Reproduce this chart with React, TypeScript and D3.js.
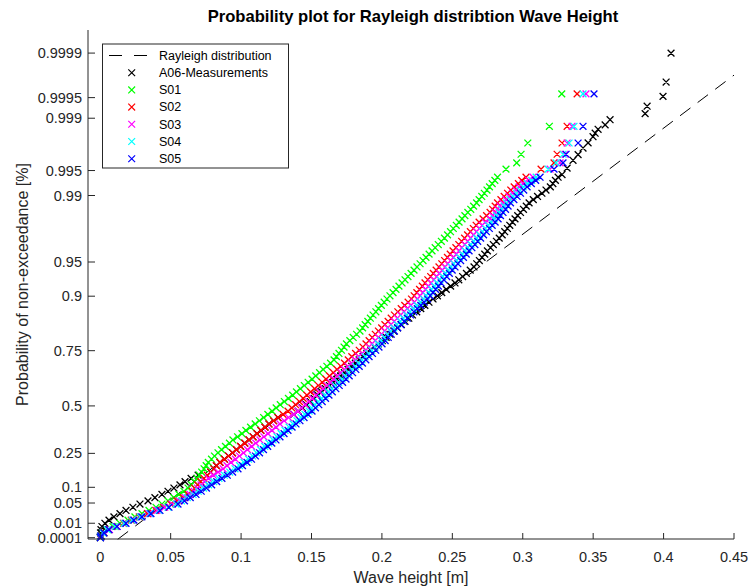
import React from 'react';
import * as d3 from 'd3';

// Non-exceedance probability levels of the plotted (sorted) sample points
const probLevels = [
  0.0001, 0.0004, 0.0016, 0.003594, 0.00638, 0.00995, 0.014297, 0.019409, 0.025275, 0.031881, 0.039211,
  0.047247, 0.055972, 0.065366, 0.075405, 0.086069, 0.09733, 0.109165, 0.121548, 0.134456, 0.147856,
  0.161717, 0.176018, 0.19072, 0.20577, 0.221199, 0.236926, 0.252935, 0.269192, 0.285666, 0.302324,
  0.319135, 0.336058, 0.353066, 0.370124, 0.387374, 0.404528, 0.421661, 0.438754, 0.455776, 0.472708,
  0.489517, 0.506184, 0.522689, 0.539015, 0.555142, 0.571044, 0.586707, 0.602118, 0.61726, 0.632121,
  0.646688, 0.660949, 0.674895, 0.688515, 0.701803, 0.714752, 0.727359, 0.739617, 0.751521, 0.763072,
  0.774266, 0.785103, 0.795583, 0.805709, 0.81548, 0.8249, 0.833972, 0.842701, 0.851088, 0.859142,
  0.866866, 0.874268, 0.881353, 0.888128, 0.894601, 0.900778, 0.906667, 0.912278, 0.917618, 0.922695,
  0.927517, 0.932093, 0.936431, 0.940539, 0.944424, 0.948098, 0.951568, 0.954842, 0.957928, 0.960836,
  0.963572, 0.966144, 0.968559, 0.970825, 0.972948, 0.974938, 0.9768, 0.978541, 0.980167, 0.981684,
  0.983099, 0.984417, 0.985644, 0.986785, 0.987845, 0.988829, 0.989741, 0.990587, 0.991369, 0.992093,
  0.992762, 0.99338, 0.99395,
];

// Wave heights [m] at those levels
const heightsA06 = [
  0.0000, 0.0001, 0.0002, 0.0005, 0.0012, 0.0033, 0.0062, 0.0097, 0.0140, 0.0183, 0.0232,
  0.0282, 0.0339, 0.0388, 0.0438, 0.0481, 0.0523, 0.0566, 0.0602, 0.0645, 0.0695,
  0.0784, 0.0807, 0.0825, 0.0850, 0.0882, 0.0911, 0.0939, 0.0967, 0.0997, 0.1026,
  0.1056, 0.1085, 0.1113, 0.1141, 0.1170, 0.1198, 0.1231, 0.1262, 0.1374, 0.1405,
  0.1436, 0.1463, 0.1491, 0.1518, 0.1545, 0.1572, 0.1599, 0.1627, 0.1654, 0.1681,
  0.1707, 0.1733, 0.1759, 0.1785, 0.1811, 0.1838, 0.1866, 0.1893, 0.1920, 0.1947,
  0.1975, 0.2002, 0.2030, 0.2057, 0.2084, 0.2111, 0.2138, 0.2164, 0.2191, 0.2217,
  0.2247, 0.2276, 0.2305, 0.2334, 0.2363, 0.2394, 0.2425, 0.2457, 0.2488, 0.2519,
  0.2546, 0.2573, 0.2600, 0.2627, 0.2654, 0.2673, 0.2692, 0.2711, 0.2730, 0.2749,
  0.2771, 0.2791, 0.2813, 0.2833, 0.2854, 0.2872, 0.2891, 0.2908, 0.2927, 0.2945,
  0.2964, 0.2984, 0.3005, 0.3025, 0.3045, 0.3075, 0.3105, 0.3136, 0.3165, 0.3196,
  0.3214, 0.3232, 0.3251,
];
const heightsS01 = [
  0.0001, 0.0009, 0.0026, 0.0055, 0.0090, 0.0140, 0.0197, 0.0246, 0.0296, 0.0346, 0.0396,
  0.0438, 0.0481, 0.0523, 0.0559, 0.0594, 0.0623, 0.0648, 0.0669, 0.0687, 0.0703,
  0.0720, 0.0737, 0.0752, 0.0767, 0.0790, 0.0811, 0.0836, 0.0861, 0.0889, 0.0917,
  0.0942, 0.0975, 0.1006, 0.1034, 0.1067, 0.1100, 0.1130, 0.1160, 0.1190, 0.1220,
  0.1249, 0.1278, 0.1307, 0.1336, 0.1366, 0.1393, 0.1421, 0.1449, 0.1476, 0.1504,
  0.1530, 0.1557, 0.1583, 0.1609, 0.1635, 0.1660, 0.1677, 0.1695, 0.1713, 0.1731,
  0.1748, 0.1772, 0.1796, 0.1820, 0.1844, 0.1863, 0.1881, 0.1900, 0.1918, 0.1937,
  0.1957, 0.1976, 0.1996, 0.2016, 0.2036, 0.2057, 0.2079, 0.2100, 0.2121, 0.2143,
  0.2164, 0.2185, 0.2207, 0.2228, 0.2249, 0.2271, 0.2292, 0.2313, 0.2335, 0.2356,
  0.2378, 0.2400, 0.2422, 0.2444, 0.2466, 0.2487, 0.2507, 0.2528, 0.2548, 0.2569,
  0.2589, 0.2610, 0.2631, 0.2651, 0.2672, 0.2690, 0.2709, 0.2727, 0.2746, 0.2764,
  0.2783, 0.2802, 0.2821,
];
const heightsS02 = [
  0.0001, 0.0005, 0.0026, 0.0060, 0.0110, 0.0165, 0.0220, 0.0277, 0.0335, 0.0395, 0.0450,
  0.0500, 0.0545, 0.0589, 0.0623, 0.0653, 0.0669, 0.0692, 0.0714, 0.0736, 0.0760,
  0.0784, 0.0807, 0.0825, 0.0850, 0.0882, 0.0911, 0.0939, 0.0967, 0.0997, 0.1026,
  0.1056, 0.1085, 0.1113, 0.1141, 0.1170, 0.1198, 0.1231, 0.1262, 0.1298, 0.1333,
  0.1360, 0.1387, 0.1414, 0.1441, 0.1467, 0.1494, 0.1522, 0.1549, 0.1576, 0.1603,
  0.1628, 0.1655, 0.1681, 0.1708, 0.1734, 0.1761, 0.1786, 0.1813, 0.1839, 0.1865,
  0.1887, 0.1909, 0.1931, 0.1953, 0.1975, 0.1998, 0.2021, 0.2044, 0.2066, 0.2089,
  0.2113, 0.2137, 0.2162, 0.2186, 0.2210, 0.2229, 0.2248, 0.2267, 0.2287, 0.2306,
  0.2326, 0.2346, 0.2365, 0.2385, 0.2405, 0.2425, 0.2445, 0.2465, 0.2485, 0.2505,
  0.2525, 0.2546, 0.2566, 0.2587, 0.2608, 0.2628, 0.2649, 0.2669, 0.2690, 0.2718,
  0.2743, 0.2768, 0.2786, 0.2804, 0.2821, 0.2845, 0.2868, 0.2892, 0.2915, 0.2939,
  0.2969, 0.2993, 0.3023,
];
const heightsS03 = [
  0.0003, 0.0004, 0.0024, 0.0066, 0.0120, 0.0176, 0.0232, 0.0289, 0.0346, 0.0403, 0.0458,
  0.0510, 0.0560, 0.0603, 0.0637, 0.0667, 0.0690, 0.0716, 0.0742, 0.0768, 0.0803,
  0.0837, 0.0872, 0.0900, 0.0928, 0.0960, 0.0988, 0.1017, 0.1045, 0.1075, 0.1104,
  0.1134, 0.1162, 0.1191, 0.1219, 0.1248, 0.1276, 0.1306, 0.1337, 0.1374, 0.1405,
  0.1430, 0.1456, 0.1481, 0.1507, 0.1532, 0.1557, 0.1584, 0.1609, 0.1634, 0.1660,
  0.1684, 0.1710, 0.1734, 0.1759, 0.1784, 0.1809, 0.1834, 0.1859, 0.1884, 0.1908,
  0.1930, 0.1952, 0.1974, 0.1996, 0.2018, 0.2041, 0.2064, 0.2087, 0.2109, 0.2132,
  0.2156, 0.2180, 0.2205, 0.2229, 0.2253, 0.2272, 0.2291, 0.2310, 0.2330, 0.2349,
  0.2369, 0.2389, 0.2408, 0.2428, 0.2448, 0.2468, 0.2488, 0.2508, 0.2528, 0.2548,
  0.2568, 0.2589, 0.2609, 0.2630, 0.2651, 0.2671, 0.2692, 0.2712, 0.2733, 0.2768,
  0.2785, 0.2803, 0.2821, 0.2839, 0.2856, 0.2880, 0.2903, 0.2927, 0.2950, 0.2974,
  0.3004, 0.3042, 0.3073,
];
const heightsS04 = [
  0.0001, 0.0003, 0.0020, 0.0050, 0.0105, 0.0170, 0.0226, 0.0283, 0.0353, 0.0417, 0.0481,
  0.0538, 0.0577, 0.0618, 0.0659, 0.0696, 0.0733, 0.0770, 0.0806, 0.0843, 0.0881,
  0.0919, 0.0957, 0.0989, 0.1021, 0.1053, 0.1081, 0.1110, 0.1138, 0.1168, 0.1197,
  0.1227, 0.1255, 0.1284, 0.1312, 0.1341, 0.1369, 0.1397, 0.1426, 0.1454, 0.1483,
  0.1500, 0.1524, 0.1548, 0.1572, 0.1596, 0.1620, 0.1645, 0.1669, 0.1693, 0.1717,
  0.1740, 0.1764, 0.1787, 0.1811, 0.1834, 0.1858, 0.1881, 0.1905, 0.1928, 0.1951,
  0.1973, 0.1995, 0.2017, 0.2039, 0.2061, 0.2084, 0.2107, 0.2130, 0.2152, 0.2175,
  0.2199, 0.2223, 0.2248, 0.2272, 0.2296, 0.2315, 0.2334, 0.2353, 0.2373, 0.2392,
  0.2412, 0.2432, 0.2451, 0.2471, 0.2491, 0.2511, 0.2531, 0.2551, 0.2571, 0.2591,
  0.2611, 0.2632, 0.2652, 0.2673, 0.2694, 0.2714, 0.2735, 0.2755, 0.2776, 0.2797,
  0.2814, 0.2832, 0.2850, 0.2868, 0.2885, 0.2909, 0.2932, 0.2956, 0.2979, 0.3003,
  0.3033, 0.3064, 0.3095,
];
const heightsS05 = [
  0.0001, 0.0005, 0.0026, 0.0062, 0.0119, 0.0183, 0.0239, 0.0296, 0.0360, 0.0424, 0.0488,
  0.0552, 0.0598, 0.0639, 0.0680, 0.0717, 0.0754, 0.0791, 0.0827, 0.0864, 0.0902,
  0.0940, 0.0978, 0.1010, 0.1042, 0.1074, 0.1102, 0.1131, 0.1159, 0.1189, 0.1218,
  0.1248, 0.1276, 0.1305, 0.1333, 0.1362, 0.1390, 0.1418, 0.1447, 0.1475, 0.1504,
  0.1528, 0.1552, 0.1576, 0.1600, 0.1624, 0.1648, 0.1673, 0.1697, 0.1721, 0.1745,
  0.1768, 0.1792, 0.1815, 0.1839, 0.1862, 0.1886, 0.1909, 0.1933, 0.1956, 0.1979,
  0.2001, 0.2023, 0.2045, 0.2067, 0.2089, 0.2112, 0.2135, 0.2158, 0.2180, 0.2203,
  0.2227, 0.2251, 0.2276, 0.2300, 0.2324, 0.2343, 0.2362, 0.2381, 0.2401, 0.2420,
  0.2440, 0.2460, 0.2479, 0.2499, 0.2519, 0.2539, 0.2559, 0.2579, 0.2599, 0.2619,
  0.2639, 0.2660, 0.2680, 0.2701, 0.2722, 0.2742, 0.2763, 0.2783, 0.2804, 0.2825,
  0.2842, 0.2860, 0.2878, 0.2896, 0.2913, 0.2937, 0.2960, 0.2984, 0.3007, 0.3031,
  0.3061, 0.3092, 0.3123,
];

// Upper tails (largest waves)
const tailProbsA06 = [
  0.99439, 0.99533, 0.99629, 0.99686, 0.99743, 0.99781, 0.99819, 0.99838,
  0.99857, 0.99876, 0.99895, 0.99914, 0.99933, 0.99952, 0.99971, 0.9999,
];
const tailHeightsA06 = [
  0.3279, 0.3315, 0.3357, 0.3393, 0.3428, 0.3464, 0.3499, 0.3514,
  0.3535, 0.3585, 0.3620, 0.3869, 0.3883, 0.3996, 0.4018, 0.4053,
];
const tailProbsS = [0.9952, 0.996, 0.9969, 0.9978, 0.9987, 0.99956];
const tailHeightsS01 = [0.2881, 0.2957, 0.2988, 0.3036, 0.3189, 0.3277];
const tailHeightsS02 = [0.3130, 0.3222, 0.3244, 0.3279, 0.3315, 0.3386];
const tailHeightsS03 = [0.3194, 0.3265, 0.3300, 0.3315, 0.3350, 0.3449];
const tailHeightsS04 = [0.3180, 0.3236, 0.3286, 0.3329, 0.3364, 0.3428];
const tailHeightsS05 = [0.3222, 0.3286, 0.3308, 0.3393, 0.3428, 0.3506];

// Fitted Rayleigh distribution (location, scale) [m]
const rayleighLocation = 0.0124;
const rayleighScale = 0.1068;

const seriesNames = ['A06-Measurements', 'S01', 'S02', 'S03', 'S04', 'S05'];
const seriesColors = ['#000000', '#00ff00', '#ff0000', '#ff00ff', '#00ffff', '#0000ff'];
const seriesHeights = [heightsA06, heightsS01, heightsS02, heightsS03, heightsS04, heightsS05];
const seriesTailProbs = [tailProbsA06, tailProbsS, tailProbsS, tailProbsS, tailProbsS, tailProbsS];
const seriesTailHeights = [tailHeightsA06, tailHeightsS01, tailHeightsS02, tailHeightsS03, tailHeightsS04, tailHeightsS05];

const yTickValues = [0.0001, 0.01, 0.05, 0.1, 0.25, 0.5, 0.75, 0.9, 0.95, 0.99, 0.995, 0.999, 0.9995, 0.9999];
const yTickLabels = ['0.0001', '0.01', '0.05', '0.1', '0.25', '0.5', '0.75', '0.9', '0.95', '0.99', '0.995', '0.999', '0.9995', '0.9999'];
const xTickValues = [0, 0.05, 0.1, 0.15, 0.2, 0.25, 0.3, 0.35, 0.4, 0.45];
const xTickLabels = ['0', '0.05', '0.1', '0.15', '0.2', '0.25', '0.3', '0.35', '0.4', '0.45'];

const FONT = '"Liberation Sans", Arial, Helvetica, sans-serif';
const AXIS_COLOR = '#262626';

export default function App() {
  const left = 88, right = 734, top = 30, bottom = 539;
  const x = d3.scaleLinear().domain([-0.0087, 0.45]).range([left, right]);
  const tScale = d3.scaleLinear().domain([0.0019, 3.179]).range([bottom, top]);
  const y = (p: number) => tScale(Math.sqrt(-Math.log(1 - p)));
  const s = 3.4;
  const cross = `M${-s},${-s}L${s},${s}M${-s},${s}L${s},${-s}`;

  const rayPts: [number, number][] = [rayleighLocation, 0.45].map((h) => {
    const z = (h - rayleighLocation) / (rayleighScale * Math.SQRT2);
    const p = 1 - Math.exp(-z * z);
    return [x(h), y(p)];
  });
  const rayPath = d3.line()(rayPts) || '';

  const legendRowY = (i: number) => 55.5 + i * 17.2;

  return (
    <svg
      width={750}
      height={587}
      style={{ position: 'absolute', left: 0, top: 0, background: '#fff' }}
      fontFamily={FONT}
    >
      <rect x={0} y={0} width={750} height={587} fill="#fff" />
      <text x={413} y={22} textAnchor="middle" fontSize={16.6} fontWeight="bold" fill="#000">
        Probability plot for Rayleigh distribtion Wave Height
      </text>

      <path d={rayPath} fill="none" stroke="#000" strokeWidth={1} strokeDasharray="13 9" />

      {seriesNames.map((name, si) => {
        const pts: [number, number][] = [];
        seriesHeights[si].forEach((h, i) => pts.push([h, probLevels[i]]));
        seriesTailHeights[si].forEach((h, i) => pts.push([h, seriesTailProbs[si][i]]));
        const d = pts
          .map(([h, p]) => {
            const cx = x(h), cy = y(p);
            return `M${(cx - s).toFixed(2)},${(cy - s).toFixed(2)}L${(cx + s).toFixed(2)},${(cy + s).toFixed(2)}M${(cx - s).toFixed(2)},${(cy + s).toFixed(2)}L${(cx + s).toFixed(2)},${(cy - s).toFixed(2)}`;
          })
          .join('');
        return <path key={name} d={d} stroke={seriesColors[si]} strokeWidth={1.3} fill="none" />;
      })}

      <g stroke={AXIS_COLOR} strokeWidth={1} fill="none">
        <line x1={left} y1={top} x2={left} y2={bottom} />
        <line x1={left} y1={bottom} x2={right} y2={bottom} />
        {yTickValues.map((v) => (
          <line key={v} x1={left} x2={left + 7} y1={y(v)} y2={y(v)} />
        ))}
        {xTickValues.map((v) => (
          <line key={v} x1={x(v)} x2={x(v)} y1={bottom} y2={bottom - 6} />
        ))}
      </g>
      <g fill={AXIS_COLOR} fontSize={14.5}>
        {yTickValues.map((v, i) => (
          <text key={v} x={82} y={y(v)} dy="0.35em" textAnchor="end">
            {yTickLabels[i]}
          </text>
        ))}
        {xTickValues.map((v, i) => (
          <text key={v} x={x(v)} y={561.5} textAnchor="middle">
            {xTickLabels[i]}
          </text>
        ))}
      </g>
      <text x={411} y={583} textAnchor="middle" fontSize={16} fill={AXIS_COLOR}>
        Wave height [m]
      </text>
      <text
        transform={`translate(28,${(top + bottom) / 2}) rotate(-90)`}
        textAnchor="middle"
        fontSize={16}
        fill={AXIS_COLOR}
      >
        Probability of non-exceedance [%]
      </text>

      <g>
        <rect x={102.5} y={44} width={186} height={124} fill="#fff" stroke={AXIS_COLOR} strokeWidth={1} />
        <line x1={109} x2={147} y1={legendRowY(0)} y2={legendRowY(0)} stroke="#000" strokeWidth={1} strokeDasharray="13 12" />
        <text x={159} y={legendRowY(0)} dy="0.35em" fontSize={12.5} fill="#000">
          Rayleigh distribution
        </text>
        {seriesNames.map((name, si) => (
          <g key={name}>
            <path
              d={cross}
              transform={`translate(131.7,${legendRowY(si + 1)})`}
              stroke={seriesColors[si]}
              strokeWidth={1.2}
              fill="none"
            />
            <text x={159} y={legendRowY(si + 1)} dy="0.35em" fontSize={12.5} fill="#000">
              {name}
            </text>
          </g>
        ))}
      </g>
    </svg>
  );
}
